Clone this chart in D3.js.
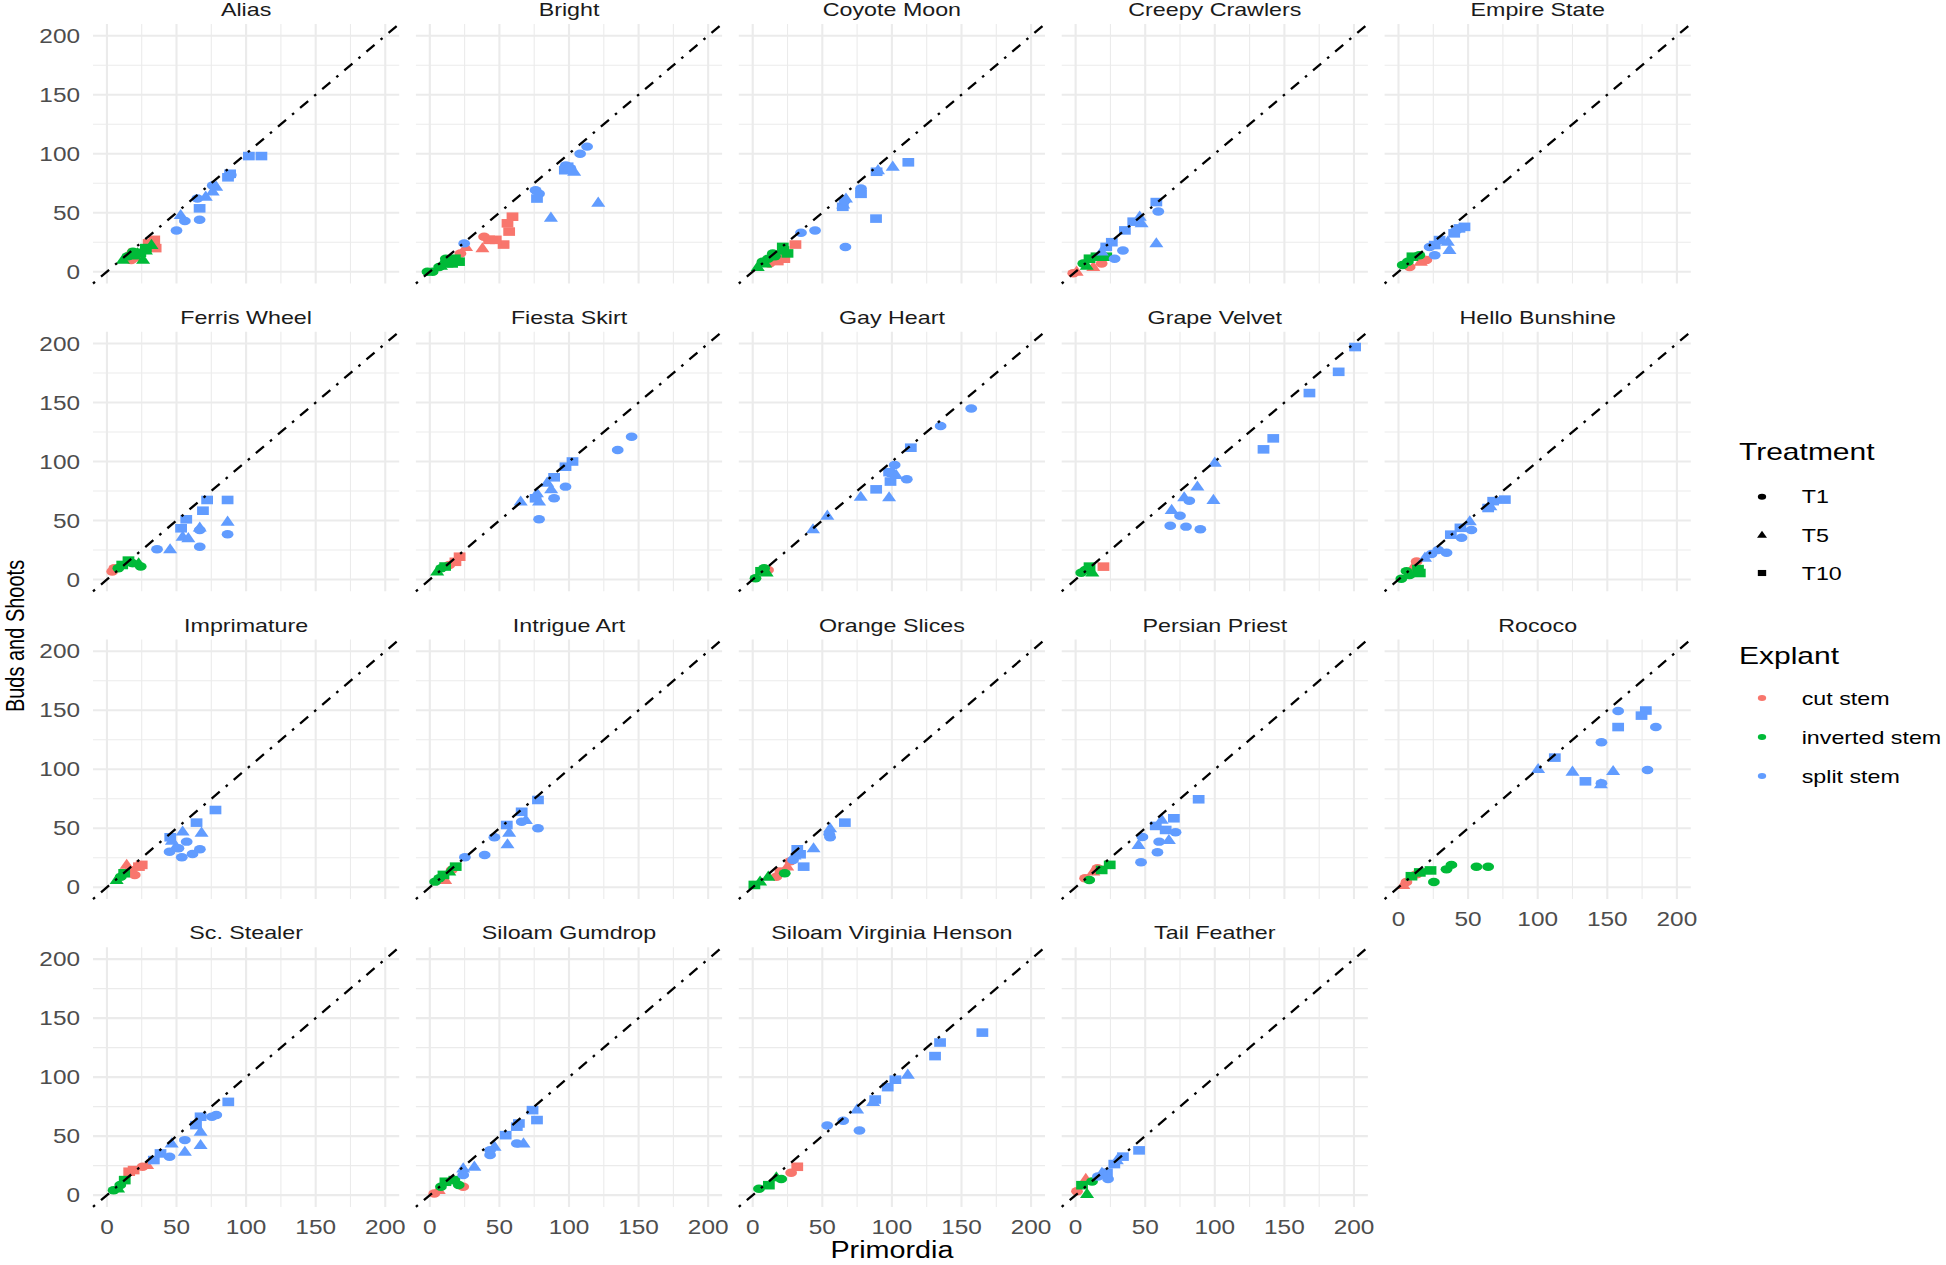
<!DOCTYPE html>
<html><head><meta charset="utf-8">
<script src="https://cdn.jsdelivr.net/npm/d3@7"></script>
<style>body{margin:0;background:#fff} text{font-family:"Liberation Sans",Arial,sans-serif}</style>
</head><body><svg id="c" width="1946" height="1265"></svg>
<script>
const varieties = ["Alias","Bright","Coyote Moon","Creepy Crawlers","Empire State","Ferris Wheel","Fiesta Skirt","Gay Heart","Grape Velvet","Hello Bunshine","Imprimature","Intrigue Art","Orange Slices","Persian Priest","Rococo","Sc. Stealer","Siloam Gumdrop","Siloam Virginia Henson","Tail Feather"];
const treatments = ["T1","T5","T10"];
const explants = ["cut stem","inverted stem","split stem"];
const explantColors = ["#F8766D","#00BA38","#619CFF"];
const xTicks = [0,50,100,150,200];
const yTicks = [0,50,100,150,200];
const minorTicks = [25,75,125,175];

// [primordia, buds and shoots, explant (c/i/s), treatment (1/5/10)]
const alias = [[35,20,"c",10],[34,27,"c",10],[30,24,"c",10],[17.5,10,"c",1],[22,14,"c",1],[16,15,"c",5],[20,12,"c",5],
 [26,10,"i",5],[11.5,10,"i",5],[22,15.5,"i",5],[32,22.6,"i",5],[28,18,"i",5],[18.7,17,"i",1],[15,13,"i",1],[28,20,"i",10],[24,16,"i",10],[20,14,"i",10],
 [102,98,"s",10],[111,98,"s",10],[87,80,"s",10],[88.5,83,"s",10],[66.6,53.7,"s",10],[78.5,72,"s",5],[76,68,"s",5],[71,63.5,"s",5],[53,48,"s",5],
 [65,62,"s",1],[66.6,44,"s",1],[50,35,"s",1],[56,43,"s",1],[89,82,"s",1],[76,73,"s",1]];
const bright = [[59.4,46.6,"c",10],[55.8,41,"c",10],[57,34,"c",10],[53,23,"c",10],[47.4,27,"c",10],[42.6,27,"c",10],[39,29.7,"c",1],[22,15.5,"c",1],[37.8,19.8,"c",5],[26,21,"c",5],
 [-1.7,0,"i",1],[2,0,"i",1],[6.7,4,"i",1],[11.5,11,"i",1],[21,8.5,"i",10],[16,7,"i",10],[13,9,"i",10],[18,11,"i",10],[8,5,"i",5],[12,7,"i",5],
 [113,106,"s",1],[108,100,"s",1],[97.7,90,"s",1],[101,87.6,"s",1],[76,69,"s",1],[78.5,66,"s",1],[24.7,24,"s",1],[99,89,"s",10],[77,62,"s",10],[97,86,"s",10],
 [103.7,84.7,"s",5],[121,58.5,"s",5],[87,45.7,"s",5],[100,88,"s",5]];
const coyoteMoon = [[30.7,23,"c",10],[22.7,11,"c",10],[18,9,"c",10],[12,7,"c",1],[16,12,"c",1],
 [25,15.5,"i",10],[21.6,21,"i",10],[22,18,"i",10],[14.4,15.5,"i",1],[7,8.5,"i",1],[11,11,"i",1],[16,13,"i",1],[3.6,4,"i",5],[9,7,"i",5],
 [111.8,92.7,"s",10],[89,84.7,"s",10],[77.8,66,"s",10],[64.7,55,"s",10],[88.6,45,"s",10],[100.6,89,"s",5],[90,86,"s",5],[67,62,"s",5],[65,57,"s",5],
 [77.8,70.6,"s",1],[66,60,"s",1],[44.8,35,"s",1],[34.7,33,"s",1],[66.6,21,"s",1]];
const creepyCrawlers = [[0.7,0,"c",5],[-1.7,-1.4,"c",1],[12.7,4,"c",5],[18.7,7,"c",1],
 [5.5,7,"i",1],[10,11,"i",10],[15,12.7,"i",10],[22,12.7,"i",10],[18.7,14,"i",1],[8,5,"i",5],
 [58,59,"s",10],[41.4,42.4,"s",10],[35.4,35,"s",10],[26,25,"s",10],[22,21,"s",10],[59.4,51,"s",1],[34,18,"s",1],[28,11,"s",1],
 [58,24,"s",5],[46,46.6,"s",5],[47.4,41,"s",5],[18.7,17,"s",5]];
const empireState = [[20,10,"c",1],[16,8.5,"c",5],[8,4,"c",1],
 [3,5.6,"i",1],[10,12.7,"i",10],[15,14,"i",1],[6.7,8.5,"i",1],
 [47.4,38,"s",10],[43.8,36.7,"s",10],[40,32.5,"s",10],[29.5,26.8,"s",10],[26,22.6,"s",10],[36.6,18.4,"s",5],[35.4,25.4,"s",5],
 [26,14,"s",1],[22.3,21,"s",1],[41.4,35,"s",1]];
const ferrisWheel = [[5.3,9.5,"c",1],[3.8,6.7,"c",1],
 [22.8,13.7,"i",5],[15.5,16,"i",10],[11,12.3,"i",10],[8.2,9.5,"i",1],[24.3,11,"i",1],[18,14,"i",1],
 [72,67.4,"s",10],[86.7,67.4,"s",10],[69,58.3,"s",10],[57,51,"s",10],[53.3,43.4,"s",10],
 [86.7,49,"s",5],[66.7,44,"s",5],[54.4,36.3,"s",5],[58.5,35,"s",5],[45.4,25.6,"s",5],
 [86.7,38.3,"s",1],[66.7,42,"s",1],[66.7,27.8,"s",1],[36,25.6,"s",1]];
const fiestaSkirt = [[21.4,19.3,"c",10],[18.4,15,"c",10],[14,12.3,"c",1],
 [8.2,9.5,"i",1],[5.3,6.7,"i",5],[11,11,"i",10],
 [145,121,"s",1],[135,109.7,"s",1],[97.5,78.7,"s",1],[89.3,68.8,"s",1],[78.5,51,"s",1],
 [102.5,100,"s",10],[97.5,95.6,"s",10],[89.3,86.6,"s",10],[76,68.8,"s",10],
 [84.3,82,"s",5],[87.2,76.4,"s",5],[65.3,66,"s",5],[77,73,"s",5],[78.5,66,"s",5]];
const gayHeart = [[11,8,"c",1],
 [8.2,9.5,"i",1],[6,7,"i",10],[2,1,"i",1],[10,6,"i",5],
 [157,145,"s",1],[135,130,"s",1],[102,97,"s",1],[110.7,85,"s",1],[99,90,"s",1],
 [113.6,111.7,"s",10],[99,83,"s",10],[88.7,76.4,"s",10],[98,91,"s",10],
 [103,88.6,"s",5],[77.6,70,"s",5],[98,69.6,"s",5],[53.6,54,"s",5],[43.3,42.5,"s",5]];
const grapeVelvet = [[20,10.9,"c",10],
 [10,10.9,"i",10],[7,8,"i",1],[4,5.8,"i",1],[12,6,"i",5],
 [200.8,197,"s",10],[189,176,"s",10],[168,158,"s",10],[142,119.6,"s",10],[135,110.3,"s",10],
 [100,99,"s",5],[87.5,78.7,"s",5],[99,67.4,"s",5],[78,69.6,"s",5],[69,58.9,"s",5],
 [81.7,66.8,"s",1],[75,54,"s",1],[68,45.6,"s",1],[79.3,44.8,"s",1],[89.6,42.5,"s",1]];
const helloBunshine = [[13,15.2,"c",1],[10.5,10.4,"c",5],
 [5.7,7.1,"i",1],[14,8.8,"i",10],[15.3,5.5,"i",10],[2,0.6,"i",1],[8,3.9,"i",1],
 [76.4,67.7,"s",10],[68,66.4,"s",10],[64.4,60.6,"s",10],[44.5,43.8,"s",10],[37.6,38,"s",10],
 [51.2,49.3,"s",5],[19,18.5,"s",5],[66,62,"s",5],
 [52.4,42,"s",1],[45.3,35.3,"s",1],[34.5,22.7,"s",1],[23.7,21.7,"s",1],[28.5,25,"s",1]];
const imprimature = [[23,17.5,"c",10],[17,14.7,"c",1],[20,10.5,"c",1],[14.2,19,"c",5],[25,19,"c",10],
 [10,9,"i",1],[7,6.2,"i",5],[12.4,11.9,"i",10],
 [78,65.5,"s",10],[64.4,54.8,"s",10],[45.5,42.4,"s",10],
 [68,46.3,"s",5],[54.4,47.2,"s",5],[49.6,34.5,"s",5],[46.7,39.5,"s",5],
 [57.3,38.7,"s",1],[45,30.2,"s",1],[53.8,25.4,"s",1],[61.5,28.2,"s",1],[66.8,32.2,"s",1],[51.4,33,"s",1]];
const intrigueArt = [[15.7,14.7,"c",1],[11,6.2,"c",5],
 [18.6,17.5,"i",10],[14,13.3,"i",5],[6.8,7.6,"i",1],[3.8,4.8,"i",1],[9.8,10.5,"i",10],
 [77.7,74,"s",10],[66,64,"s",10],[55.3,52.8,"s",10],
 [57,46.3,"s",5],[55.8,36.4,"s",5],[69,57,"s",5],
 [77.7,50,"s",1],[66,55.6,"s",1],[46.4,42.4,"s",1],[39.4,27.4,"s",1],[25.2,25.4,"s",1]];
const orangeSlices = [[24.8,17.5,"c",5],[20,13.3,"c",10],[17,9,"c",1],[27,22,"c",1],
 [23,11.9,"i",1],[11.2,9,"i",5],[5.3,4.8,"i",5],[1.2,2,"i",10],
 [66.2,54.8,"s",10],[36.6,17.5,"s",10],[32,32.2,"s",10],[34,28,"s",10],
 [55.6,50,"s",5],[43.7,33,"s",5],[30,27,"s",5],
 [55.6,42.4,"s",1],[29,23.2,"s",1],[55,45,"s",1]];
const persianPriest = [[6.8,7.6,"c",1],[12.7,13.3,"c",5],[15.7,16.1,"c",1],
 [24.5,19,"i",10],[18.7,14.7,"i",10],[9.8,6.2,"i",1],
 [88.4,74.6,"s",10],[70.6,58.5,"s",10],[57.6,52,"s",10],[64.7,48.6,"s",10],
 [61.8,57.3,"s",5],[67,40,"s",5],[45.2,35.9,"s",5],
 [71.8,46.6,"s",1],[60,38.7,"s",1],[58.8,29.7,"s",1],[47,21.2,"s",1],[48,42.7,"s",1]];
const rococo = [[5.7,4.5,"c",1],[3.4,2,"c",5],[13,11,"c",1],
 [64.4,17.5,"i",1],[56,17.5,"i",1],[38,19,"i",1],[34.5,15.2,"i",1],[25.4,4.5,"i",1],
 [23,14.3,"i",10],[15.3,12.6,"i",10],[9.3,9.4,"i",10],
 [157.8,149.4,"s",1],[184.9,135.8,"s",1],[145.8,122.9,"s",1],[178.9,99.5,"s",1],[145.8,88.2,"s",1],
 [177.7,149.8,"s",10],[174.6,145.5,"s",10],[157.8,135.8,"s",10],[112.3,109.9,"s",10],[134.3,89.8,"s",10],
 [100.3,100.2,"s",5],[125,97.9,"s",5],[154.2,98.5,"s",5],[145.4,87.2,"s",5]];
const scStealer = [[19.2,21.2,"c",10],[28.9,25.4,"c",5],[25.6,24,"c",1],[16,19.8,"c",10],
 [4.8,4.2,"i",1],[9.6,8.5,"i",1],[12.8,12.7,"i",10],[8,5.6,"i",5],
 [87.2,79,"s",10],[67.3,66.4,"s",10],[64,59.3,"s",10],[38.5,35.3,"s",10],[33.7,29.7,"s",10],
 [78.6,67.8,"s",1],[75.4,66.4,"s",1],[56,46.6,"s",1],[45,32.5,"s",1],
 [67.3,53.7,"s",5],[67.3,42.4,"s",5],[56,36.7,"s",5],[46.5,43.8,"s",5]];
const siloamGumdrop = [[24,7,"c",1],[3.2,1.4,"c",1],[6.4,4.2,"c",5],
 [20.8,8.5,"i",1],[11.2,11.3,"i",10],[8,7,"i",1],[17.6,12.7,"i",10],
 [73.8,72,"s",10],[77,63.6,"s",10],[64,60.7,"s",10],[62.5,58,"s",10],[54.5,50.8,"s",10],
 [67.3,43.8,"s",5],[46.5,41,"s",5],[32,24,"s",5],[24,22.6,"s",5],
 [62.5,43.8,"s",1],[43.3,33.9,"s",1],[43.3,38,"s",1],[24,17,"s",1]];
const siloamVirginiaHenson = [[32,24,"c",10],[27.6,19,"c",1],
 [20.5,13.7,"i",1],[11.6,8.4,"i",10],[4.5,5.3,"i",1],[17,15,"i",5],
 [165,137.7,"s",10],[131,117.8,"s",10],[134.6,129.3,"s",10],[102.5,97.8,"s",10],[97,91.5,"s",10],[88,81,"s",10],
 [111.4,102,"s",5],[86.5,78.9,"s",5],[75,72.6,"s",5],
 [76.7,54.7,"s",1],[65,63,"s",1],[53.5,58.9,"s",1]];
const tailFeather = [[1,3.2,"c",1],[7.3,13.7,"c",5],
 [11.8,11.6,"i",1],[4.6,8.4,"i",10],[8.2,1,"i",5],
 [45.6,37.9,"s",10],[34,32.6,"s",10],[27.8,26.3,"s",10],[22.5,19,"s",10],
 [29.6,29.4,"s",5],[18.9,18.9,"s",5],[23.3,13.7,"s",1],[16,15.8,"s",1]];

const panelPoints = [alias,bright,coyoteMoon,creepyCrawlers,empireState,ferrisWheel,fiestaSkirt,gayHeart,grapeVelvet,helloBunshine,
  imprimature,intrigueArt,orangeSlices,persianPriest,rococo,scStealer,siloamGumdrop,siloamVirginiaHenson,tailFeather];

// ---------- layout ----------
const SX = 1.25;            // horizontal stretch of the reference picture
const nCols = 5;
const panelW = 306.2, panelH = 259.6;
const colStep = 322.9, rowStep = 307.8;
const left0 = 93, top0 = 23.9;
const explantKey = {c:0,i:1,s:2};
const treatKey = {1:0,5:1,10:2};
const PK = 1.1; // point size factor

const svg = d3.select("#c");

function shapePath(t, k){ // t: 0 circle, 1 triangle, 2 square
  k = k || 1;
  if (t===0){ const rx=5.35*k, ry=3.85*k;
    return `M${-rx},0A${rx},${ry} 0 1,0 ${rx},0A${rx},${ry} 0 1,0 ${-rx},0Z`; }
  if (t===1){ const w=6.4*k, h1=5.6*k, h2=3.6*k;
    return `M0,${-h1}L${w},${h2}L${-w},${h2}Z`; }
  const w=5.35*k, h=3.9*k;
  return `M${-w},${-h}H${w}V${h}H${-w}Z`;
}

function stretchText(g, x, y, txt, opts){
  return g.append("text")
    .attr("transform", `translate(${x},${y}) scale(${SX},1)` + (opts.rotate?` rotate(${opts.rotate})`:""))
    .attr("font-size", opts.size)
    .attr("fill", opts.fill || "#000")
    .attr("text-anchor", opts.anchor || "start")
    .text(txt);
}

varieties.forEach((name, i) => {
  const col = i % nCols, row = Math.floor(i / nCols);
  const L = left0 + col*colStep, T = top0 + row*rowStep;
  const x = d3.scaleLinear().domain([-10,210]).range([L, L+panelW]);
  const y = d3.scaleLinear().domain([-10,210]).range([T+panelH, T]);
  const g = svg.append("g");

  // grid
  minorTicks.forEach(v => {
    g.append("line").attr("x1",x(v)).attr("x2",x(v)).attr("y1",T).attr("y2",T+panelH).attr("stroke","#ebebeb").attr("stroke-width",1.1);
    g.append("line").attr("y1",y(v)).attr("y2",y(v)).attr("x1",L).attr("x2",L+panelW).attr("stroke","#ebebeb").attr("stroke-width",1.1);
  });
  xTicks.forEach(v => {
    g.append("line").attr("x1",x(v)).attr("x2",x(v)).attr("y1",T).attr("y2",T+panelH).attr("stroke","#ebebeb").attr("stroke-width",2.1);
  });
  yTicks.forEach(v => {
    g.append("line").attr("y1",y(v)).attr("y2",y(v)).attr("x1",L).attr("x2",L+panelW).attr("stroke","#ebebeb").attr("stroke-width",2.1);
  });

  // strip title
  stretchText(g, L+panelW/2, T-8, name, {size:18.6, fill:"#1a1a1a", anchor:"middle"});

  // points
  const pts = panelPoints[i].slice().sort((a,b)=>explantKey[a[2]]-explantKey[b[2]]);
  g.selectAll("path.pt").data(pts).enter().append("path")
    .attr("class","pt")
    .attr("transform", d => `translate(${x(d[0])},${y(d[1])})`)
    .attr("d", d => shapePath(treatKey[d[3]], PK))
    .attr("fill", d => explantColors[explantKey[d[2]]]);

  // identity line
  g.append("line").attr("x1",x(-10)).attr("y1",y(-10)).attr("x2",x(210)).attr("y2",y(210))
    .attr("stroke","#000").attr("stroke-width",2.3).attr("stroke-dasharray","2.6 7.9 10.6 7.9");

  // y axis labels (first column)
  if (col === 0) {
    yTicks.forEach(v => stretchText(g, 80, y(v)+7, v, {size:19.5, fill:"#4d4d4d", anchor:"end"}));
  }
  // x axis labels (bottom of each column)
  if (i + nCols >= varieties.length) {
    xTicks.forEach(v => stretchText(g, x(v), T+panelH+27, v, {size:19.5, fill:"#4d4d4d", anchor:"middle"}));
  }
});

// axis titles
const areaL = left0, areaR = left0 + 4*colStep + panelW;
stretchText(svg, (areaL+areaR)/2, 1258, "Primordia", {size:23, anchor:"middle"});
stretchText(svg, 24, 636, "Buds and Shoots", {size:20, anchor:"middle", rotate:-90});

// legends
const lg = svg.append("g");
stretchText(lg, 1739, 460, "Treatment", {size:24});
const treatY = [496.7, 535, 573];
treatments.forEach((t, k) => {
  lg.append("path").attr("transform",`translate(1762,${treatY[k]})`).attr("d", shapePath(k, 0.78)).attr("fill","#000");
  stretchText(lg, 1801.7, treatY[k]+6.7, t, {size:18.6});
});
stretchText(lg, 1739, 663.5, "Explant", {size:24});
const explY = [698, 737, 776];
explants.forEach((e, k) => {
  lg.append("path").attr("transform",`translate(1762,${explY[k]})`).attr("d", shapePath(0, 0.78)).attr("fill", explantColors[k]);
  stretchText(lg, 1801.7, explY[k]+6.7, e, {size:18.6});
});
</script></body></html>
